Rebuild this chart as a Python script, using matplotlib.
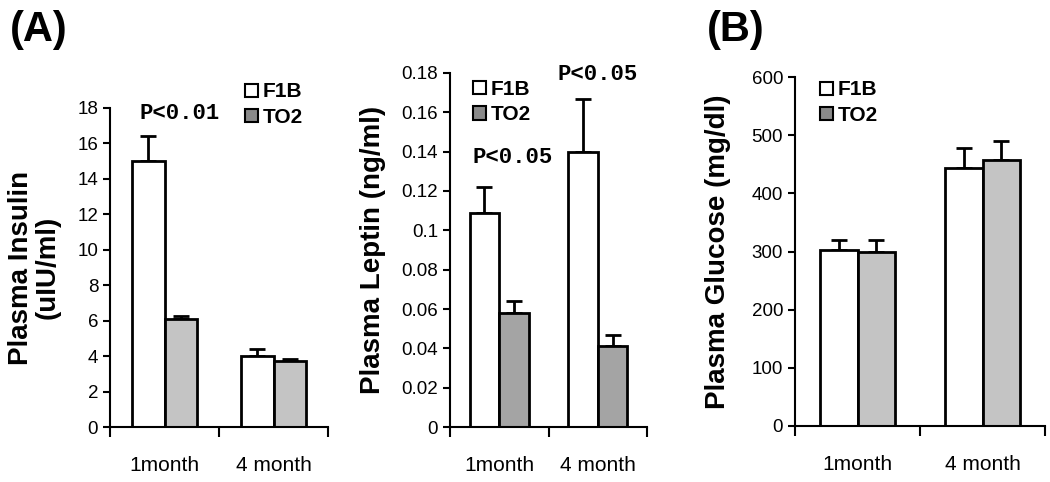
import numpy as np
import matplotlib
matplotlib.use('Agg')
import matplotlib.pyplot as plt
from matplotlib.patches import Patch

plt.rcParams['font.family'] = ['Liberation Sans', 'DejaVu Sans']

groups = ["1month", "4 month"]
series = ["F1B", "TO2"]

insulin_f1b = [15.0, 4.0]
insulin_f1b_err = [1.4, 0.4]
insulin_to2 = [6.1, 3.7]
insulin_to2_err = [0.15, 0.15]

leptin_f1b = [0.109, 0.140]
leptin_f1b_err = [0.013, 0.027]
leptin_to2 = [0.058, 0.041]
leptin_to2_err = [0.006, 0.006]

glucose_f1b = [302, 444]
glucose_f1b_err = [18, 34]
glucose_to2 = [299, 458]
glucose_to2_err = [21, 32]

W, H = 1050, 482
fig = plt.figure(figsize=(W/100., H/100.), dpi=100)

def px_axes(l, r, b, t):
    return fig.add_axes([l/W, 1-b/H, (r-l)/W, (b-t)/H])

def panel(ax, f1b, f1b_err, to2, to2_err, ymax, ystep, to2_col, fmt):
    x = np.array([0.5, 1.5])
    w = 0.3
    kw = dict(edgecolor='black', linewidth=2, zorder=2)
    ax.bar(x-w/2, f1b, w, color='white', **kw)
    ax.bar(x+w/2, to2, w, color=to2_col, **kw)
    ekw = dict(fmt='none', ecolor='black', elinewidth=2, capsize=6, capthick=2, zorder=1)
    ax.errorbar(x-w/2, f1b, yerr=[np.zeros(2), f1b_err], **ekw)
    ax.errorbar(x+w/2, to2, yerr=[np.zeros(2), to2_err], **ekw)
    ax.set_xlim(0, 2)
    ax.set_ylim(0, ymax)
    ticks = np.arange(0, ymax + ystep/2, ystep)
    ax.set_yticks(ticks)
    ax.set_yticklabels([fmt(t) for t in ticks], fontsize=13.5)
    ax.set_xticks([0, 1, 2])
    ax.set_xticklabels([])
    ax.set_xticks(x, minor=True)
    ax.set_xticklabels(groups, minor=True, fontsize=15)
    ax.tick_params(axis='x', which='minor', length=0, pad=21)
    ax.tick_params(axis='x', which='major', length=7, width=1.5, direction='out')
    ax.tick_params(axis='y', length=5, width=1.5, direction='out')
    for s in ['top', 'right']:
        ax.spines[s].set_visible(False)
    for s in ['left', 'bottom']:
        ax.spines[s].set_linewidth(1.5)

def add_legend(ax, x0, y0):
    handles = [Patch(facecolor='white', edgecolor='black', linewidth=1.5),
               Patch(facecolor='#8a8a8a', edgecolor='black', linewidth=1.5)]
    leg = ax.legend(handles, series, loc='upper left', bbox_to_anchor=(x0, y0),
                    frameon=False, prop={'weight': 'bold', 'size': 15},
                    handlelength=0.6, handleheight=0.6, handletextpad=0.25,
                    labelspacing=0.3, borderpad=0, borderaxespad=0)
    return leg

# (A) insulin
ax1 = px_axes(110, 328, 427, 108)
panel(ax1, insulin_f1b, insulin_f1b_err, insulin_to2, insulin_to2_err,
      18, 2, '#c4c4c4', lambda t: "%d" % t)
ax1.set_ylabel("Plasma Insulin\n(uIU/ml)", fontsize=20, fontweight='bold', linespacing=1.05)
ax1.yaxis.set_label_coords(-0.225, 0.5)
add_legend(ax1, 0.62, 1.08)
ax1.text(0.64, 17.7, "P<0.01", family='Liberation Mono', fontweight='bold',
         fontsize=16, ha='center', va='center', clip_on=False)

# (A) leptin
ax2 = px_axes(450, 647, 427, 73)
panel(ax2, leptin_f1b, leptin_f1b_err, leptin_to2, leptin_to2_err,
      0.18, 0.02, '#a4a4a4', lambda t: "0" if t == 0 else ("%.2f" % t).rstrip('0'))
ax2.set_ylabel("Plasma Leptin (ng/ml)", fontsize=20, fontweight='bold')
ax2.yaxis.set_label_coords(-0.325, 0.5)
add_legend(ax2, 0.117, 0.98)
ax2.text(0.64, 0.137, "P<0.05", family='Liberation Mono', fontweight='bold',
         fontsize=16, ha='center', va='center')
ax2.text(1.50, 0.179, "P<0.05", family='Liberation Mono', fontweight='bold',
         fontsize=16, ha='center', va='center', clip_on=False)

# (B) glucose
ax3 = px_axes(795, 1045, 426, 77)
panel(ax3, glucose_f1b, glucose_f1b_err, glucose_to2, glucose_to2_err,
      600, 100, '#c4c4c4', lambda t: "%d" % t)
ax3.set_ylabel("Plasma Glucose (mg/dl)", fontsize=20, fontweight='bold')
ax3.yaxis.set_label_coords(-0.255, 0.5)
add_legend(ax3, 0.1, 0.99)

fig.text(10/W, 1-10/H, "(A)", fontsize=30, fontweight='bold', ha='left', va='top')
fig.text(707/W, 1-10/H, "(B)", fontsize=30, fontweight='bold', ha='left', va='top')

plt.savefig("out.png", dpi=100)
plt.close()
